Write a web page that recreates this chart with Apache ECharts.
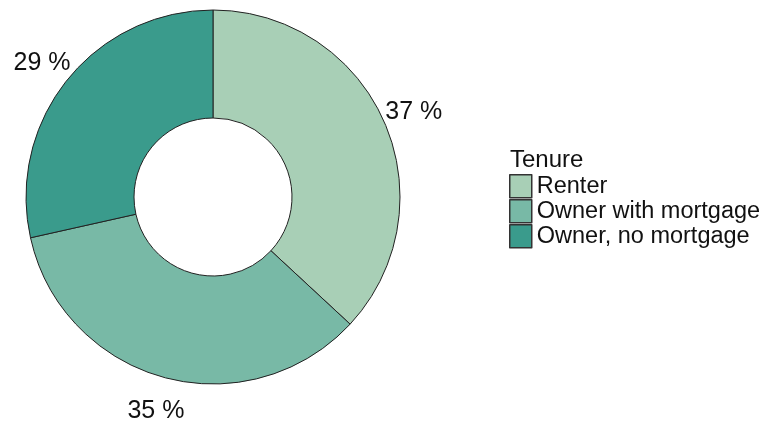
<!DOCTYPE html>
<html>
<head>
<meta charset="utf-8">
<script src="https://cdn.jsdelivr.net/npm/echarts@6/dist/echarts.min.js"></script>
<style>
  html, body { margin: 0; padding: 0; background: #fff; }
  #chart { width: 766px; height: 422px; }
</style>
</head>
<body>
<div id="chart"></div>
<script>
const categories = ['Renter', 'Owner with mortgage', 'Owner, no mortgage'];
const shares = [36.9, 34.6, 28.5];
const colors = ['#a8cfb6', '#78b9a6', '#3a9b8c'];

const ringData = categories.map((name, i) => ({
  name: name,
  value: shares[i],
  itemStyle: { color: colors[i] }
}));

// invisible ring only used to place the percent labels outside the donut
const labelData = categories.map((name, i) => ({
  name: name,
  value: shares[i]
}));

const font = 'Liberation Sans, Arial, sans-serif';

const chart = echarts.init(document.getElementById('chart'));
chart.setOption({
  animation: false,
  backgroundColor: '#fff',
  textStyle: { fontFamily: font },
  title: {
    text: 'Tenure',
    left: 505,
    top: 143,
    textStyle: { fontSize: 24, fontWeight: 'normal', color: '#111', fontFamily: font }
  },
  legend: {
    data: categories,
    orient: 'vertical',
    left: 509,
    top: 174,
    padding: 0,
    itemWidth: 22,
    itemHeight: 23,
    itemGap: 0.5,
    itemTextGap: 2,
    icon: 'rect',
    selectedMode: false,
    itemStyle: { borderColor: '#333', borderWidth: 1.5 },
    textStyle: { fontSize: 23.5, color: '#111', fontFamily: font }
  },
  series: [
    {
      type: 'pie',
      center: [213, 197],
      radius: [79, 187],
      startAngle: 90,
      clockwise: true,
      silent: true,
      label: { show: false },
      labelLine: { show: false },
      itemStyle: { borderColor: '#222', borderWidth: 1 },
      data: ringData
    },
    {
      type: 'pie',
      center: [213, 197],
      radius: [209, 223],
      startAngle: 90,
      clockwise: true,
      silent: true,
      itemStyle: { color: 'rgba(0,0,0,0)', borderWidth: 0 },
      label: {
        show: true,
        position: 'inside',
        formatter: p => Math.round(p.value) + ' %',
        fontSize: 25,
        color: '#111',
        fontFamily: font,
        offset: [0, 3]
      },
      labelLine: { show: false },
      data: labelData
    }
  ]
});
</script>
</body>
</html>
